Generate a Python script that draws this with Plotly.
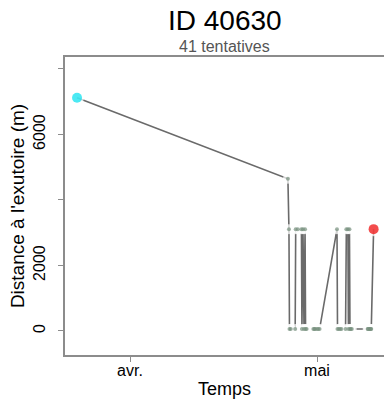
import plotly.graph_objects as go

times = [
    "2023-03-23 12:00", "2023-04-26 08:00", "2023-04-26 12:00", "2023-04-26 14:00",
    "2023-04-26 19:00", "2023-04-27 12:00", "2023-04-27 14:00", "2023-04-27 22:00",
    "2023-04-28 12:00", "2023-04-28 14:00", "2023-04-28 18:00", "2023-04-28 22:00",
    "2023-04-29 02:00", "2023-04-29 04:00", "2023-04-29 08:00", "2023-04-30 10:00",
    "2023-04-30 14:00", "2023-04-30 17:00", "2023-05-01 00:00", "2023-05-01 05:00",
    "2023-05-01 10:00", "2023-05-04 05:00", "2023-05-04 07:00", "2023-05-04 12:00",
    "2023-05-04 17:00", "2023-05-04 22:00", "2023-05-05 14:00", "2023-05-05 17:00",
    "2023-05-05 23:00", "2023-05-06 01:00", "2023-05-06 05:00", "2023-05-06 07:00",
    "2023-05-06 10:00", "2023-05-06 14:00", "2023-05-09 03:00", "2023-05-09 05:00",
    "2023-05-09 09:00", "2023-05-09 12:00", "2023-05-09 15:00", "2023-05-09 17:00",
    "2023-05-10 02:00",
]
distances = [
    7120, 4650, 3110, 60, 60, 60, 3110, 3110, 3110, 60, 3110, 60, 3110, 60, 60, 60,
    60, 60, 60, 60, 60, 3110, 60, 60, 60, 60, 60, 3110, 3110, 60, 3110, 60,
    60, 60, 60, 60, 60, 60, 60, 60, 3110,
]
x_tick_vals = ["2023-04-01", "2023-05-01"]
x_tick_text = ["avr.", "mai"]
y_tick_vals = [0, 2000, 4000, 6000, 8000]
y_tick_text = ["0", "2000", "", "6000", ""]
title_text = "ID 40630"
subtitle_text = "41 tentatives"

n = len(times)
colors = ["#00e0ee"] + ["#76907e"] * (n - 2) + ["#ee0000"]
sizes = [10] + [4] * (n - 2) + [10]
halo_sizes = [14] + [10] * (n - 2) + [14]

fig = go.Figure()
# connecting line (R type="b": line with gaps around points)
fig.add_trace(go.Scatter(
    x=times, y=distances, mode="lines",
    line=dict(color="#6a6a6a", width=1.6),
    hoverinfo="skip", showlegend=False,
))
fig.add_trace(go.Scatter(
    x=times, y=distances, mode="markers",
    marker=dict(color="white", size=halo_sizes, line=dict(width=0)),
    hoverinfo="skip", showlegend=False,
))
fig.add_trace(go.Scatter(
    x=times, y=distances, mode="markers",
    marker=dict(color=colors, size=sizes, line=dict(width=0)),
    showlegend=False,
))

font = "Liberation Sans, Arial, sans-serif"
fig.update_layout(
    width=384, height=407,
    margin=dict(l=65, r=0, t=57, b=52, autoexpand=False),
    paper_bgcolor="white", plot_bgcolor="white",
    font=dict(family=font, color="black"),
    xaxis=dict(
        range=["2023-03-21 13:40", "2023-05-11 18:00"],
        tickvals=x_tick_vals, ticktext=x_tick_text,
        showgrid=False, zeroline=False, automargin=False,
        showline=True, linecolor="#8c8c8c", linewidth=1.5, mirror=True,
        ticks="outside", ticklen=5, tickcolor="#8c8c8c",
        tickfont=dict(size=16), ticklabelstandoff=-5,
        title=dict(text="Temps", font=dict(size=18), standoff=4),
    ),
    yaxis=dict(
        range=[-733, 8366],
        tickvals=y_tick_vals, ticktext=y_tick_text,
        tickangle=-90,
        showgrid=False, zeroline=False, automargin=False,
        showline=True, linecolor="#8c8c8c", linewidth=1.5,
        ticks="outside", ticklen=5, tickcolor="#8c8c8c",
        tickfont=dict(size=16), ticklabelstandoff=7,
        title=dict(text="Distance à l'exutoire (m)", font=dict(size=19), standoff=1),
    ),
)
fig.add_annotation(text=title_text, xref="paper", yref="paper", x=0.5, y=1,
                   yanchor="middle", yshift=37, showarrow=False,
                   font=dict(size=28, color="black"))
fig.add_annotation(text=subtitle_text, xref="paper", yref="paper", x=0.5, y=1,
                   yanchor="middle", yshift=11, showarrow=False,
                   font=dict(size=16, color="#555555"))

fig.write_html(
    "out.html",
    config={"displayModeBar": False},
    post_script="document.body.style.margin='0';document.body.style.overflow='hidden';",
)
